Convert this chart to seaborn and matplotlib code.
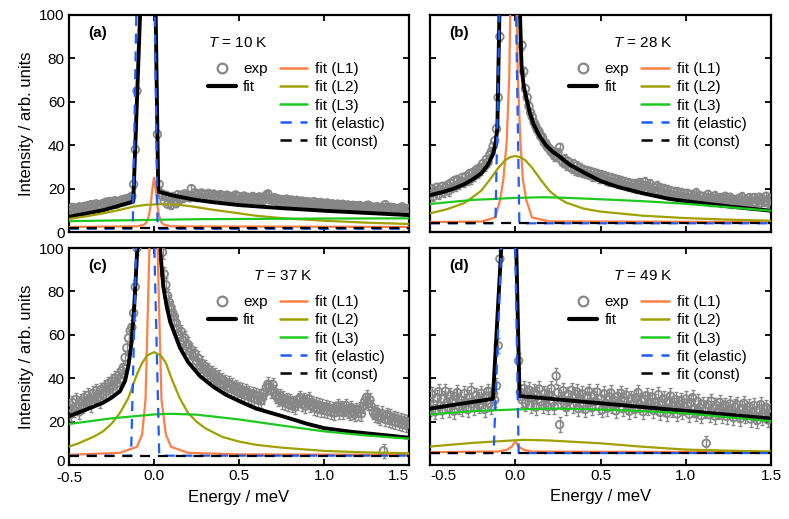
import matplotlib
matplotlib.use("Agg")
import matplotlib.pyplot as plt
from matplotlib.lines import Line2D
from matplotlib.transforms import ScaledTranslation
import seaborn as sns

# ---------------- data ----------------
ENERGY = [
    -0.50, -0.49, -0.48, -0.47, -0.46, -0.45, -0.44, -0.43, -0.42, -0.41,
    -0.40, -0.39, -0.38, -0.37, -0.36, -0.35, -0.34, -0.33, -0.32, -0.31,
    -0.30, -0.29, -0.28, -0.27, -0.26, -0.25, -0.24, -0.23, -0.22, -0.21,
    -0.20, -0.19, -0.18, -0.17, -0.16, -0.15, -0.14, -0.13, -0.12, -0.11,
    -0.10, -0.09, -0.08, -0.07, -0.06, -0.05, -0.04, -0.03, -0.02, -0.01,
    0.00, 0.01, 0.02, 0.03, 0.04, 0.05, 0.06, 0.07, 0.08, 0.09,
    0.10, 0.11, 0.12, 0.13, 0.14, 0.15, 0.16, 0.17, 0.18, 0.19,
    0.20, 0.21, 0.22, 0.23, 0.24, 0.25, 0.26, 0.27, 0.28, 0.29,
    0.30, 0.31, 0.32, 0.33, 0.34, 0.35, 0.36, 0.37, 0.38, 0.39,
    0.40, 0.41, 0.42, 0.43, 0.44, 0.45, 0.46, 0.47, 0.48, 0.49,
    0.50, 0.51, 0.52, 0.53, 0.54, 0.55, 0.56, 0.57, 0.58, 0.59,
    0.60, 0.61, 0.62, 0.63, 0.64, 0.65, 0.66, 0.67, 0.68, 0.69,
    0.70, 0.71, 0.72, 0.73, 0.74, 0.75, 0.76, 0.77, 0.78, 0.79,
    0.80, 0.81, 0.82, 0.83, 0.84, 0.85, 0.86, 0.87, 0.88, 0.89,
    0.90, 0.91, 0.92, 0.93, 0.94, 0.95, 0.96, 0.97, 0.98, 0.99,
    1.00, 1.01, 1.02, 1.03, 1.04, 1.05, 1.06, 1.07, 1.08, 1.09,
    1.10, 1.11, 1.12, 1.13, 1.14, 1.15, 1.16, 1.17, 1.18, 1.19,
    1.20, 1.21, 1.22, 1.23, 1.24, 1.25, 1.26, 1.27, 1.28, 1.29,
    1.30, 1.31, 1.32, 1.33, 1.34, 1.35, 1.36, 1.37, 1.38, 1.39,
    1.40, 1.41, 1.42, 1.43, 1.44, 1.45, 1.46, 1.47, 1.48, 1.49,
    1.50,
]

EXP_A = [
    10.5, 9.2, 11.3, 9.8, 10.9, 9.5, 11.6, 10.2, 9.4, 11.8,
    10.6, 12.2, 11.0, 12.6, 10.9, 12.0, 13.0, 11.4, 12.5, 11.8,
    13.2, 12.1, 13.8, 12.6, 14.1, 12.9, 13.5, 14.4, 12.8, 14.0,
    13.6, 14.8, 13.9, 15.2, 14.3, 15.6, 14.8, 16.5, 22.0, 38.0,
    65, 105, 160, 230, 300, 360, 400, 420, 410, 380,
    300, 110, 45, 22, 18.0, 16.5, 14.2, 17.0, 12.8, 15.8,
    12.3, 16.4, 14.6, 13.1, 17.2, 15.0, 16.8, 15.5, 17.6, 16.1,
    17.0, 15.8, 20.0, 16.6, 18.1, 15.9, 17.4, 16.2, 18.0, 15.7,
    17.2, 16.0, 17.8, 15.6, 16.9, 17.5, 15.4, 16.8, 15.9, 17.3,
    15.5, 16.7, 15.2, 17.0, 16.0, 14.9, 16.4, 15.6, 17.1, 15.0,
    16.3, 15.4, 14.8, 16.6, 15.1, 16.0, 14.6, 15.8, 16.4, 14.9,
    15.6, 14.7, 16.2, 15.0, 14.4, 15.9, 17.0, 17.6, 14.8, 15.5,
    14.6, 15.8, 14.2, 15.3, 13.8, 15.0, 14.5, 13.6, 15.2, 14.0,
    13.5, 14.8, 13.9, 13.2, 14.6, 13.7, 12.9, 14.3, 13.4, 14.0,
    12.8, 13.9, 13.1, 12.5, 14.0, 12.9, 13.5, 12.3, 13.6, 12.7,
    13.2, 12.1, 13.4, 12.6, 11.9, 13.0, 12.4, 11.7, 12.9, 12.2,
    11.6, 12.8, 12.0, 11.4, 12.5, 11.8, 11.2, 12.3, 11.5, 12.1,
    11.0, 12.2, 11.4, 10.8, 11.9, 11.2, 12.4, 10.9, 11.6, 11.1,
    10.6, 11.7, 11.0, 10.4, 11.5, 10.8, 12.6, 11.3, 10.5, 11.4,
    10.2, 11.2, 10.7, 9.9, 11.0, 10.4, 11.6, 10.0, 10.8, 10.3,
    10.9,
]
EXP_B = [
    17.5, 19.8, 16.4, 18.9, 20.6, 17.2, 19.5, 21.0, 18.3, 20.2,
    21.5, 19.0, 22.4, 20.6, 23.5, 21.2, 24.0, 22.0, 23.2, 25.1,
    22.8, 25.6, 24.0, 26.8, 24.5, 27.4, 25.8, 28.5, 26.9, 29.4,
    28.6, 31.5, 30.2, 33.4, 32.1, 35.5, 37.0, 39.5, 42.0, 47.5,
    62, 90, 140, 210, 290, 350, 400, 420, 430, 420,
    400, 330, 200, 120, 86, 74, 66, 62, 58, 55,
    53, 50.5, 48.8, 47.0, 46.2, 44.0, 43.5, 41.2, 40.8, 39.0,
    38.5, 37.0, 36.8, 35.0, 34.9, 36.5, 39.0, 33.2, 32.0, 33.6,
    31.0, 32.4, 30.2, 29.4, 31.5, 28.6, 30.4, 28.0, 29.6, 27.5,
    28.8, 26.9, 28.2, 26.4, 27.9, 25.8, 27.3, 25.5, 26.8, 25.0,
    26.2, 24.6, 25.8, 24.0, 25.4, 23.6, 24.9, 23.2, 24.6, 22.8,
    24.0, 22.5, 23.6, 21.8, 23.2, 21.5, 22.8, 21.0, 22.4, 20.6,
    22.0, 20.2, 21.6, 22.8, 20.0, 21.4, 23.0, 19.8, 21.0, 22.2,
    19.4, 20.6, 18.8, 21.2, 19.0, 20.2, 18.4, 19.8, 17.8, 19.4,
    17.6, 19.0, 17.2, 18.6, 16.8, 18.4, 16.5, 18.0, 16.2, 17.6,
    16.0, 17.8, 15.6, 17.2, 15.4, 16.9, 18.0, 15.2, 16.6, 14.9,
    16.4, 14.6, 16.0, 17.3, 14.4, 15.8, 14.2, 16.6, 15.5, 14.0,
    15.6, 13.8, 15.2, 16.4, 13.6, 14.9, 16.0, 13.4, 15.0, 14.2,
    13.2, 15.4, 14.0, 16.2, 13.5, 14.8, 13.0, 15.6, 14.4, 13.3,
    15.8, 13.6, 14.6, 16.0, 13.4, 15.2, 14.0, 16.4, 13.8, 15.0,
    15.6,
]
EXP_C = [
    26.5, 23.4, 28.8, 25.2, 30.1, 26.7, 24.5, 29.6, 27.2, 31.0,
    28.4, 32.1, 29.6, 27.8, 33.0, 30.5, 34.2, 31.2, 29.4, 34.8,
    32.6, 36.0, 33.8, 37.4, 35.1, 38.6, 36.2, 40.0, 37.5, 41.2,
    39.5, 43.4, 45.0, 49.5, 54.0, 58.5, 61.8, 63.5, 70.0, 82.0,
    100, 130, 180, 240, 300, 350, 390, 420, 430, 440,
    430, 400, 330, 220, 140, 98, 88, 83, 78, 75,
    72.5, 70.0, 68.4, 65.5, 63.0, 60.2, 61.5, 57.4, 58.6, 54.8,
    55.6, 52.4, 53.2, 50.0, 51.4, 47.8, 49.2, 45.6, 47.0, 44.2,
    45.4, 42.8, 44.0, 41.4, 42.6, 40.2, 41.6, 38.8, 40.4, 37.6,
    39.2, 36.8, 38.4, 35.9, 37.6, 35.2, 36.8, 34.6, 36.0, 33.8,
    35.2, 33.0, 34.6, 32.4, 34.0, 31.8, 33.2, 31.2, 32.8, 30.6,
    32.2, 30.0, 31.6, 29.6, 31.4, 33.5, 35.6, 37.2, 36.0, 34.2,
    37.0, 33.6, 31.8, 30.4, 32.0, 29.2, 30.8, 28.6, 30.2, 28.0,
    29.4, 27.4, 28.8, 26.8, 28.4, 30.2, 31.0, 28.0, 29.8, 27.2,
    29.0, 30.6, 27.6, 28.8, 26.4, 28.0, 25.8, 27.6, 25.4, 27.0,
    25.2, 26.8, 24.8, 26.4, 24.4, 26.0, 24.0, 25.6, 27.2, 24.6,
    26.2, 24.2, 25.8, 27.4, 25.0, 23.8, 26.4, 24.6, 23.4, 25.6,
    24.0, 25.8, 23.6, 27.0, 29.5, 31.2, 28.4, 30.0, 26.8, 24.2,
    23.0, 24.6, 22.4, 21.6, 23.8, 6.5, 21.0, 23.2, 20.6, 22.4,
    20.2, 21.8, 19.8, 21.4, 19.4, 20.8, 18.8, 20.4, 18.4, 20.0,
    19.2,
]
EXP_D = [
    26.0, 32.5, 28.0, 24.5, 31.0, 33.8, 27.2, 25.0, 30.4, 34.0,
    28.6, 25.8, 32.2, 29.5, 24.8, 31.6, 33.4, 27.0, 30.0, 26.2,
    32.8, 29.0, 25.5, 31.2, 34.4, 28.2, 26.6, 32.0, 30.2, 27.4,
    33.0, 29.6, 25.6, 31.8, 34.0, 28.4, 27.0, 32.6, 30.0, 36.5,
    55, 95, 150, 230, 320, 380, 420, 430, 410, 360,
    260, 120, 48, 33.5, 30.0, 35.2, 28.4, 31.8, 34.6, 27.5,
    30.8, 33.6, 26.6, 32.4, 35.0, 29.2, 27.4, 33.0, 30.6, 26.8,
    32.0, 35.2, 29.0, 27.0, 41.0, 33.4, 18.6, 30.0, 34.2, 28.2,
    26.4, 32.6, 29.8, 34.4, 27.6, 31.0, 33.8, 26.0, 30.4, 32.8,
    27.8, 25.6, 31.8, 34.0, 28.8, 26.4, 32.2, 29.4, 33.6, 27.0,
    30.6, 25.4, 32.8, 28.4, 26.2, 31.4, 33.2, 27.6, 29.8, 25.0,
    31.6, 28.6, 33.0, 26.0, 29.4, 32.2, 27.2, 24.8, 30.8, 28.0,
    25.6, 31.0, 33.4, 27.8, 29.6, 24.6, 30.2, 32.0, 26.6, 28.8,
    31.4, 25.2, 29.0, 27.0, 32.4, 24.2, 28.4, 30.6, 26.0, 23.8,
    29.6, 31.8, 25.4, 27.6, 30.2, 23.6, 28.0, 29.8, 24.6, 26.8,
    30.4, 27.2, 23.4, 28.6, 31.0, 25.8, 24.0, 29.2, 26.4, 22.8,
    28.0, 25.0, 10.0, 27.8, 23.2, 29.4, 26.0, 22.6, 27.4, 24.8,
    28.8, 23.0, 26.2, 27.6, 22.4, 25.6, 28.2, 24.2, 21.8, 26.8,
    27.8, 23.8, 21.4, 26.0, 28.4, 22.8, 25.2, 27.0, 21.2, 24.6,
    27.4, 22.2, 20.6, 25.8, 27.8, 22.0, 24.0, 26.6, 20.8, 23.6,
    26.2,
]
EXP_ERR = [1.5, 2.2, 3.2, 3.5]   # error bar half-heights for panels a-d

# fitted curves, sampled (energy, intensity)
FIT_A = [(-0.5, 7.0), (-0.3, 10.0), (-0.122, 14.0), (-0.082, 100), (-0.04, 400), (0.0, 400),
         (0.01, 100), (0.025, 18.6), (0.1, 17.0), (0.23, 15.0), (0.35, 13.7), (0.5, 12.4),
         (0.75, 11.0), (1.0, 9.8), (1.25, 8.8), (1.5, 7.8)]
L1_A = [(-0.5, 2.3), (-0.1, 2.6), (-0.06, 3.3), (-0.045, 4.3), (-0.03, 7.5), (-0.02, 12.0),
        (-0.01, 19.5), (0.0, 25.0), (0.01, 19.5), (0.02, 12.0), (0.03, 7.5), (0.045, 4.3),
        (0.06, 3.3), (0.1, 2.6), (1.5, 2.3)]
L2_A = [(-0.5, 6.0), (-0.4, 7.2), (-0.3, 8.6), (-0.2, 10.2), (-0.12, 11.7), (-0.05, 12.5),
        (0.05, 12.9), (0.15, 12.5), (0.23, 11.7), (0.35, 10.2), (0.5, 8.6), (0.6, 7.5),
        (0.75, 6.4), (1.0, 5.2), (1.25, 4.3), (1.5, 3.7)]
L3_A = [(-0.5, 5.0), (-0.25, 5.3), (0.0, 5.6), (0.25, 5.9), (0.5, 6.0), (1.0, 6.2), (1.5, 6.3)]
EL_A = [(-0.5, 1.5), (-0.125, 1.5), (-0.1, 120), (-0.05, 450), (-0.01, 400), (0.005, 100),
        (0.021, 1.5), (1.5, 1.5)]
CONST_A = [(-0.5, 2.0), (1.5, 2.0)]

FIT_B = [(-0.5, 17.0), (-0.43, 18.3), (-0.36, 20.0), (-0.3, 22.0), (-0.25, 24.2), (-0.2, 27.0),
         (-0.16, 31.0), (-0.13, 36.0), (-0.115, 41.0), (-0.105, 48.0), (-0.093, 100),
         (-0.05, 400), (0.0, 400), (0.028, 100), (0.037, 76), (0.05, 67), (0.067, 61),
         (0.085, 55), (0.106, 50), (0.14, 44.5), (0.18, 40), (0.22, 37), (0.26, 34.7),
         (0.32, 31.0), (0.4, 27.5), (0.5, 23.5), (0.6, 20.8), (0.75, 17.8), (0.9, 15.3),
         (1.0, 14.2), (1.25, 11.8), (1.5, 9.8)]
L1_B = [(-0.5, 4.6), (-0.2, 4.8), (-0.118, 6.7), (-0.089, 14.7), (-0.07, 24.0), (-0.05, 42.0),
        (-0.035, 72.0), (-0.01, 200), (0.015, 72.0), (0.03, 42.0), (0.045, 24.0),
        (0.065, 14.7), (0.098, 6.7), (0.2, 4.9), (1.5, 4.6)]
L2_B = [(-0.5, 8.6), (-0.4, 10.5), (-0.3, 13.3), (-0.25, 16.0), (-0.2, 19.0), (-0.15, 24.0),
        (-0.1, 29.5), (-0.06, 33.0), (-0.03, 34.5), (0.0, 35.0), (0.03, 34.5), (0.06, 33.0),
        (0.1, 29.5), (0.15, 24.0), (0.2, 19.0), (0.25, 15.8), (0.3, 13.5), (0.4, 10.8),
        (0.5, 9.4), (0.75, 7.5), (1.0, 6.4), (1.25, 5.7), (1.5, 5.2)]
L3_B = [(-0.5, 12.9), (-0.25, 14.8), (0.0, 15.7), (0.15, 16.0), (0.25, 15.9), (0.5, 15.1),
        (0.75, 14.2), (1.0, 13.0), (1.25, 11.4), (1.5, 9.8)]
EL_B = [(-0.5, 4.0), (-0.116, 4.0), (-0.093, 100), (-0.06, 400), (-0.02, 400), (0.005, 100),
        (0.024, 4.0), (1.5, 4.0)]
CONST_B = [(-0.5, 4.0), (1.5, 4.0)]

FIT_C = [(-0.5, 22.5), (-0.4, 25.5), (-0.3, 28.7), (-0.25, 31.0), (-0.2, 34.0), (-0.17, 38.8),
         (-0.15, 46.0), (-0.131, 57.0), (-0.115, 75.0), (-0.098, 100), (-0.05, 400),
         (0.0, 400), (0.035, 100), (0.055, 82), (0.075, 73), (0.095, 66), (0.114, 62),
         (0.153, 54), (0.2, 47.5), (0.27, 41.0), (0.35, 36.0), (0.42, 32.5), (0.5, 29.5),
         (0.6, 26.0), (0.755, 22.5), (0.9, 19.0), (1.0, 17.0), (1.15, 15.4), (1.3, 14.2),
         (1.5, 12.6)]
L1_C = [(-0.5, 4.7), (-0.2, 5.6), (-0.1, 8.4), (-0.07, 14.0), (-0.05, 30.0), (-0.04, 60.0),
        (-0.027, 100), (-0.003, 150), (0.021, 100), (0.034, 60.0), (0.044, 30.0),
        (0.07, 14.0), (0.1, 8.4), (0.2, 5.6), (0.5, 4.9), (1.5, 4.7)]
L2_C = [(-0.5, 8.5), (-0.45, 9.8), (-0.4, 11.5), (-0.35, 13.2), (-0.3, 15.5), (-0.25, 19.0),
        (-0.2, 24.0), (-0.15, 31.0), (-0.1, 41.9), (-0.07, 47.0), (-0.04, 50.5), (0.0, 52.0),
        (0.04, 50.5), (0.07, 47.0), (0.1, 40.5), (0.15, 31.0), (0.2, 24.0), (0.25, 20.0),
        (0.3, 17.0), (0.4, 13.0), (0.5, 10.8), (0.6, 9.3), (0.75, 8.0), (1.0, 6.5),
        (1.25, 5.8), (1.5, 5.4)]
L3_C = [(-0.5, 18.9), (-0.25, 21.5), (0.0, 23.3), (0.1, 23.6), (0.25, 23.2), (0.5, 21.0),
        (0.75, 18.2), (1.0, 15.5), (1.25, 13.6), (1.5, 12.1)]
EL_C = [(-0.5, 4.3), (-0.135, 4.3), (-0.105, 100), (-0.06, 400), (-0.02, 400), (0.002, 100),
        (0.031, 4.3), (1.5, 4.3)]
CONST_C = [(-0.5, 4.3), (1.5, 4.3)]

FIT_D = [(-0.5, 26.0), (-0.131, 30.5), (-0.082, 100), (-0.04, 400), (-0.01, 400),
         (0.006, 100), (0.025, 31.8), (1.5, 21.4)]
L1_D = [(-0.5, 5.9), (-0.1, 6.2), (-0.05, 7.0), (-0.02, 8.5), (0.0, 10.9), (0.02, 8.5),
        (0.05, 7.0), (0.1, 6.2), (1.5, 5.9)]
L2_D = [(-0.5, 8.5), (-0.25, 10.2), (0.0, 11.4), (0.05, 11.6), (0.2, 11.3), (0.5, 10.0),
        (0.75, 8.4), (1.0, 7.1), (1.25, 6.6), (1.5, 6.2)]
L3_D = [(-0.5, 23.3), (-0.25, 24.8), (0.0, 25.6), (0.2, 26.0), (0.5, 25.6), (0.75, 24.8),
        (1.0, 23.8), (1.25, 22.0), (1.5, 20.2)]
EL_D = [(-0.5, 5.5), (-0.127, 5.5), (-0.082, 100), (-0.04, 400), (-0.01, 400), (0.0, 100),
        (0.02, 5.5), (1.5, 5.5)]
CONST_D = [(-0.5, 5.5), (1.5, 5.5)]

PANEL_LABELS = ["(a)", "(b)", "(c)", "(d)"]
TEMPERATURES = ["10", "28", "37", "49"]
LEGEND_LABELS = ["exp", "fit", "fit (L1)", "fit (L2)", "fit (L3)", "fit (elastic)", "fit (const)"]
X_TICKS = [-0.5, 0.0, 0.5, 1.0, 1.5]
Y_TICKS = [0, 20, 40, 60, 80, 100]

# ---------------- style ----------------
GRAY = "#878787"
C_FIT = "black"
C_L1 = "#ff7f45"
C_L2 = "#a0a000"
C_L3 = "#1fc81f"
C_EL = "#1a5cff"
C_CONST = "black"
DASH = (0, (4.5, 3.5))

sns.set_theme(style="ticks")
plt.rcParams.update({
    "font.family": ["Liberation Sans", "DejaVu Sans"],
    "font.size": 11,
    "axes.unicode_minus": False,
    "axes.linewidth": 1.6,
    "axes.edgecolor": "black",
    "xtick.direction": "in",
    "ytick.direction": "in",
    "xtick.top": True,
    "ytick.right": True,
    "xtick.major.size": 4,
    "ytick.major.size": 4,
    "xtick.major.width": 1.3,
    "ytick.major.width": 1.3,
    "xtick.labelsize": 11,
    "ytick.labelsize": 11,
    "xtick.color": "black",
    "ytick.color": "black",
    "text.color": "black",
    "axes.labelcolor": "black",
    "mathtext.fontset": "custom",
    "mathtext.it": "Liberation Sans:italic",
    "mathtext.rm": "Liberation Sans",
})

fig = plt.figure(figsize=(7.89, 5.19), dpi=100)
W, H = 789.0, 519.0
rects = [
    (69, 15, 340, 217), (430, 15, 341, 217),
    (69, 248, 340, 217), (430, 248, 341, 217),
]
axes = [fig.add_axes([x / W, 1 - (y + h) / H, w / W, h / H]) for x, y, w, h in rects]

panels = [
    (EXP_A, FIT_A, L1_A, L2_A, L3_A, EL_A, CONST_A),
    (EXP_B, FIT_B, L1_B, L2_B, L3_B, EL_B, CONST_B),
    (EXP_C, FIT_C, L1_C, L2_C, L3_C, EL_C, CONST_C),
    (EXP_D, FIT_D, L1_D, L2_D, L3_D, EL_D, CONST_D),
]
temp_x = [0.409, 0.537, 0.541, 0.537]


def curve(ax, pts, color, lw, ls="-", z=4):
    e, v = zip(*pts)
    sns.lineplot(x=list(e), y=list(v), ax=ax, color=color, linewidth=lw, linestyle=ls,
                 sort=False, estimator=None, zorder=z, legend=False)


for i, (ax, (exp, fit, l1, l2, l3, el, const)) in enumerate(zip(axes, panels)):
    ax.errorbar(ENERGY, exp, yerr=EXP_ERR[i], fmt="none", ecolor=GRAY, elinewidth=1.0,
                capsize=1.6, capthick=1.0, zorder=2)
    sns.scatterplot(x=ENERGY, y=exp, ax=ax, marker="o", s=30, color=GRAY, facecolor="none",
                    edgecolor=GRAY, linewidth=1.3, zorder=3, legend=False)
    curve(ax, fit, C_FIT, 2.8, z=4)
    curve(ax, l1, C_L1, 1.6, z=5)
    curve(ax, l2, C_L2, 1.6, z=5)
    curve(ax, l3, C_L3, 1.6, z=5)
    curve(ax, el, C_EL, 1.6, DASH, z=6)
    curve(ax, const, C_CONST, 1.6, DASH, z=6)

    ax.set_xlim(-0.5, 1.5)
    ax.set_ylim(0, 100)
    ax.set_xticks(X_TICKS)
    ax.set_yticks(Y_TICKS)
    ax.set_xticklabels([f"{t:.1f}" for t in X_TICKS])
    ax.set_yticklabels([str(t) for t in Y_TICKS])
    ax.tick_params(axis="both", which="both", direction="in", top=True, right=True, pad=3)
    for s in ax.spines.values():
        s.set_visible(True)
        s.set_linewidth(1.6)
        s.set_color("black")
    if i < 2:
        ax.tick_params(labelbottom=False)
    else:
        ax.set_xlabel("Energy / meV", labelpad=4)
    if i % 2 == 1:
        ax.tick_params(labelleft=False)
    else:
        ax.set_ylabel("Intensity / arb. units", labelpad=4)

    ax.text(0.056, 0.917, PANEL_LABELS[i], transform=ax.transAxes, fontsize=11,
            fontweight="bold", ha="left", va="center")
    ax.text(temp_x[i], 0.872, rf"$T$ = {TEMPERATURES[i]} K", transform=ax.transAxes,
            fontsize=11, ha="left", va="center")

    h_exp = Line2D([], [], marker="o", ls="none", mfc="none", mec=GRAY, ms=7, mew=1.6)
    h_fit = Line2D([], [], color=C_FIT, lw=3.0)
    leg1 = ax.legend([h_exp, h_fit], LEGEND_LABELS[:2], loc="upper left",
                     bbox_to_anchor=(0.409, 0.782), frameon=False, borderpad=0,
                     borderaxespad=0, handlelength=1.8, handletextpad=0.5,
                     labelspacing=0.27, fontsize=11)
    ax.add_artist(leg1)
    hs = [Line2D([], [], color=C_L1, lw=1.8), Line2D([], [], color=C_L2, lw=1.8),
          Line2D([], [], color=C_L3, lw=1.8),
          Line2D([], [], color=C_EL, lw=1.8, ls=DASH),
          Line2D([], [], color=C_CONST, lw=1.8, ls=DASH)]
    ax.legend(hs, LEGEND_LABELS[2:], loc="upper left", bbox_to_anchor=(0.62, 0.782),
              frameon=False, borderpad=0, borderaxespad=0, handlelength=1.8,
              handletextpad=0.5, labelspacing=0.27, fontsize=11)

# keep neighbouring tick labels at the panel junctions apart, as in the reference
axes[2].get_xticklabels()[-1].set_horizontalalignment("right")
axes[3].get_xticklabels()[0].set_horizontalalignment("left")
zero_lab = axes[2].get_yticklabels()[0]
zero_lab.set_transform(zero_lab.get_transform()
                       + ScaledTranslation(0, 4 / 100, fig.dpi_scale_trans))
xl = axes[2].get_xticklabels()[0]
xl.set_transform(xl.get_transform() + ScaledTranslation(0, -1.5 / 100, fig.dpi_scale_trans))

fig.savefig("out.png", dpi=100)
